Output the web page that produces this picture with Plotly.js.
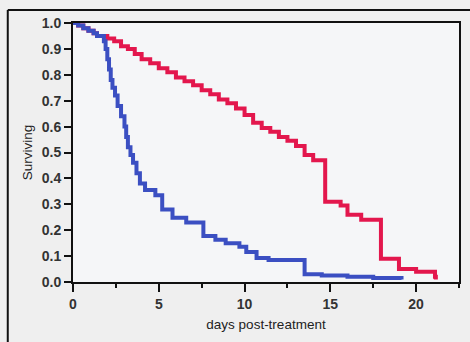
<!DOCTYPE html>
<html>
<head>
<meta charset="utf-8">
<script src="https://cdn.plot.ly/plotly-3.0.1.min.js"></script>
<style>
html,body{margin:0;padding:0;background:#efefef;}
#chart{width:470px;height:342px;}
</style>
</head>
<body>
<div id="chart"></div>
<script>
// Kaplan-Meier style step data
const redDays = [0, 0.3, 0.6, 0.9, 1.2, 1.4, 2.0, 2.4, 2.8, 3.2, 3.6, 4.0, 4.5, 5.0, 5.5, 6.0, 6.5, 7.0, 7.5, 8.0, 8.5, 9.0, 9.5, 10.0, 10.5, 11.0, 11.5, 12.0, 12.5, 13.0, 13.5, 14.0, 14.7, 15.6, 16.0, 16.8, 17.95, 19.0, 20.0, 21.1, 21.15];
const redSurv = [1.0, 0.99, 0.98, 0.97, 0.96, 0.95, 0.94, 0.93, 0.91, 0.90, 0.88, 0.86, 0.845, 0.825, 0.81, 0.79, 0.775, 0.76, 0.74, 0.725, 0.705, 0.69, 0.67, 0.645, 0.615, 0.595, 0.58, 0.56, 0.545, 0.525, 0.49, 0.47, 0.31, 0.295, 0.26, 0.24, 0.09, 0.05, 0.04, 0.02, 0.01];

const blueDays = [0, 0.3, 0.6, 0.9, 1.2, 1.4, 1.8, 1.9, 2.0, 2.1, 2.2, 2.3, 2.45, 2.6, 2.8, 3.0, 3.1, 3.2, 3.35, 3.5, 3.7, 3.9, 4.2, 4.8, 5.2, 5.8, 6.6, 7.6, 8.3, 8.9, 9.7, 10.1, 10.7, 11.4, 13.5, 14.5, 16.0, 17.5, 19.15];
const blueSurv = [1.0, 0.99, 0.98, 0.97, 0.96, 0.95, 0.93, 0.90, 0.86, 0.82, 0.78, 0.75, 0.72, 0.68, 0.64, 0.60, 0.56, 0.52, 0.49, 0.46, 0.42, 0.38, 0.355, 0.335, 0.28, 0.248, 0.23, 0.178, 0.163, 0.15, 0.136, 0.116, 0.093, 0.085, 0.03, 0.025, 0.02, 0.015, 0.01];

const yTickVals = [0, 0.1, 0.2, 0.3, 0.4, 0.5, 0.6, 0.7, 0.8, 0.9, 1.0];

const traces = [
  {x: redDays, y: redSurv, type: 'scatter', mode: 'lines', line: {shape: 'hv', color: '#e3174d', width: 4}, hoverinfo: 'skip'},
  {x: blueDays, y: blueSurv, type: 'scatter', mode: 'lines', line: {shape: 'hv', color: '#3b4fc2', width: 4}, hoverinfo: 'skip'}
];

const FAM = 'Liberation Sans, Arial, sans-serif';
const tickFont = {family: FAM, size: 14, color: '#333', weight: 'bold'};
const titleFont = {family: FAM, size: 13.5, color: '#222'};

const layout = {
  width: 470, height: 342,
  margin: {l: 73, r: 11, t: 23, b: 60, pad: 0},
  paper_bgcolor: '#efefef',
  plot_bgcolor: '#f5f6f8',
  showlegend: false,
  xaxis: {
    range: [0, 22.5], tick0: 0, dtick: 5,
    ticks: 'outside', ticklen: 8, tickwidth: 2, tickcolor: '#111',
    minor: {dtick: 2.5, tick0: 0, ticks: 'outside', ticklen: 4, tickwidth: 2, tickcolor: '#111', showgrid: false},
    showline: true, linecolor: '#111', linewidth: 2, mirror: true,
    showgrid: false, zeroline: false, tickfont: tickFont,
    title: {text: 'days post-treatment', font: titleFont, standoff: 9}
  },
  yaxis: {
    range: [0, 1], tickvals: yTickVals, tickformat: '.1f',
    ticks: 'outside', ticklen: 7, tickwidth: 2, tickcolor: '#111',
    showline: true, linecolor: '#111', linewidth: 2, mirror: true,
    showgrid: false, zeroline: false, tickfont: tickFont,
    title: {text: 'Surviving', font: titleFont, standoff: 6}
  },
  shapes: [
    {type: 'line', xref: 'paper', yref: 'paper', x0: -0.169, x1: 1.05, y0: 1.0 + 13/259, y1: 1.0 + 13/259, line: {color: '#111', width: 2}},
    {type: 'line', xref: 'paper', yref: 'paper', x0: -0.169, x1: -0.169, y0: -0.3, y1: 1.0 + 13/259, line: {color: '#111', width: 2}}
  ]
};

Plotly.newPlot('chart', traces, layout, {displayModeBar: false, staticPlot: true});
</script>
</body>
</html>
